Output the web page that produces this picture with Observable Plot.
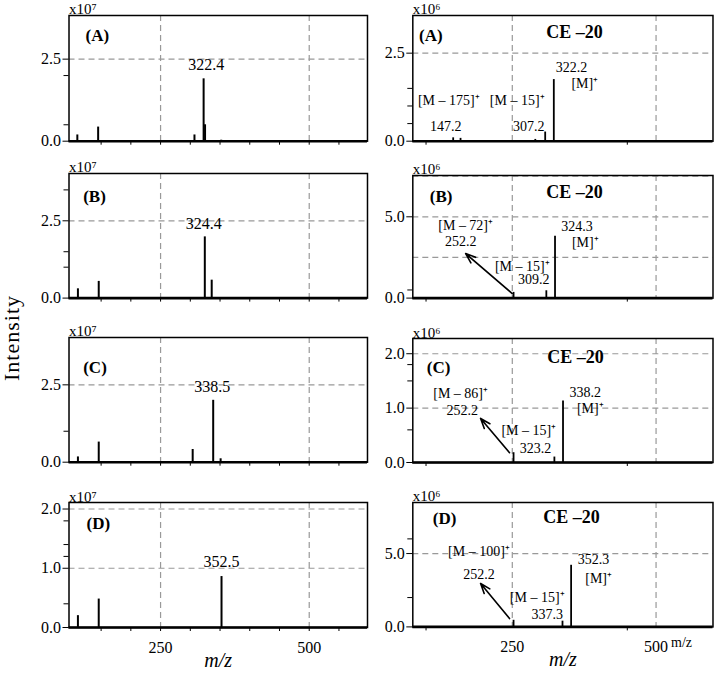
<!DOCTYPE html>
<html>
<head>
<meta charset="utf-8">
<script src="https://cdn.jsdelivr.net/npm/d3@7"></script>
<script src="https://cdn.jsdelivr.net/npm/@observablehq/plot@0.6"></script>
<style>
  body { margin: 0; background: #fff; }
  #wrap { position: relative; width: 714px; height: 673px; font-family: "Liberation Serif", "Times New Roman", serif; color: #000; }
  #wrap svg { position: absolute; overflow: visible; }
  #ylab { position: absolute; left: 12px; top: 338px; transform: translate(-50%, -50%) rotate(-90deg); font-size: 22px; letter-spacing: 1px; white-space: nowrap; }
</style>
</head>
<body>
<div id="wrap"><div id="ylab">Intensity</div></div>
<script>
// ---------- shared axis values ----------
const xGrid = [250, 500];
const leftXTicks = [150, 200, 250, 300, 350, 400, 450, 500, 550];
const rightXTicks = [100, 450];
const xLabelTicks = [250, 500];
const leftXDomain = [96, 598];
const rightXDomain = [77, 599];
const panelLetters = ["(A)", "(B)", "(C)", "(D)"];
const ceLabel = "CE –20";
const leftMult = "x10⁷";
const rightMult = "x10⁶";
const xTitle = "m/z";

// ---------- left column: full scan (x10^7) ----------
const fullA_mz = [110, 145, 307, 322.4, 324.8, 352];
const fullA_int = [0.19, 0.43, 0.19, 1.90, 0.50, 0.03];
const fullA_yMax = 3.83, fullA_yLabels = [0, 2.5], fullA_yGrid = [2.5], fullA_yMinor = [0.5, 2.0];
const fullA_annText = ["322.4"], fullA_annMz = [326.7], fullA_annInt = [2.34];

const fullB_mz = [111, 146, 324.4, 336];
const fullB_int = [0.30, 0.54, 1.98, 0.58];
const fullB_yMax = 4.03, fullB_yLabels = [0, 2.5], fullB_yGrid = [2.5], fullB_yMinor = [1.0, 1.5, 3.5];
const fullB_annText = ["324.4"], fullB_annMz = [322.7], fullB_annInt = [2.39];

const fullC_mz = [111, 146, 304, 338.5, 351];
const fullC_int = [0.17, 0.65, 0.41, 2.00, 0.11];
const fullC_yMax = 4.03, fullC_yLabels = [0, 2.5], fullC_yGrid = [2.5], fullC_yMinor = [1.0];
const fullC_annText = ["338.5"], fullC_annMz = [336.8], fullC_annInt = [2.43];

const fullD_mz = [111, 146, 352.5];
const fullD_int = [0.20, 0.48, 0.86];
const fullD_yMax = 2.11, fullD_yLabels = [0, 1.0, 2.0], fullD_yGrid = [1.0, 2.0], fullD_yMinor = [0.4, 1.2, 1.4, 1.8];
const fullD_annText = ["352.5"], fullD_annMz = [352.5], fullD_annInt = [1.10];

// ---------- right column: product ions, CE -20 (x10^6) ----------
const ms2A_mz = [147.2, 160, 290, 307.2, 322.2];
const ms2A_int = [0.095, 0.08, 0.05, 0.26, 1.75];
const ms2A_yMax = 3.57, ms2A_yLabels = [0, 2.5], ms2A_yGrid = [2.5], ms2A_yMinor = [0.5, 1.0, 1.5];
const ms2A_annText = ["322.2", "[M]⁺", "[M – 175]⁺", "147.2", "[M – 15]⁺", "307.2"];
const ms2A_annMz = [352.8, 376, 139.5, 134.2, 258.5, 278.7];
const ms2A_annInt = [2.08, 1.64, 1.16, 0.42, 1.16, 0.42];
const ms2A_arrow = null;

const ms2B_mz = [252.2, 309.2, 324.3];
const ms2B_int = [0.35, 0.45, 3.81];
const ms2B_yMax = 7.54, ms2B_yLabels = [0, 5.0], ms2B_yGrid = [2.5, 5.0, 7.5], ms2B_yMinor = [0.5];
const ms2B_annText = ["[M – 72]⁺", "252.2", "324.3", "[M]⁺", "[M – 15]⁺", "309.2"];
const ms2B_annMz = [168.9, 160.2, 362.6, 377, 267.3, 287.4];
const ms2B_annInt = [4.44, 3.46, 4.40, 3.42, 1.95, 1.12];
const ms2B_arrow = {x1: 249.9, y1: 0.28, x2: 168.9, y2: 2.74};

const ms2C_mz = [252.2, 323.2, 338.2];
const ms2C_int = [0.18, 0.10, 1.13];
const ms2C_yMax = 2.28, ms2C_yLabels = [0, 1.0, 2.0], ms2C_yGrid = [1.0, 2.0], ms2C_yMinor = [0.6, 1.5, 1.8];
const ms2C_annText = ["[M – 86]⁺", "252.2", "338.2", "[M]⁺", "[M – 15]⁺", "323.2"];
const ms2C_annMz = [160.2, 163.2, 377, 385.7, 278.7, 290.3];
const ms2C_annInt = [1.27, 0.96, 1.28, 0.99, 0.58, 0.26];
const ms2C_arrow = {x1: 245.2, y1: 0.18, x2: 194.9, y2: 0.81};

const ms2D_mz = [252.2, 337.3, 352.3];
const ms2D_int = [0.45, 0.39, 4.20];
const ms2D_yMax = 8.48, ms2D_yLabels = [0, 5.0], ms2D_yGrid = [5.0], ms2D_yMinor = [2.0, 6.0];
const ms2D_annText = ["[M – 100]⁺", "252.2", "352.3", "[M]⁺", "[M – 15]⁺", "337.3"];
const ms2D_annMz = [192, 192, 391.4, 400.1, 293.3, 310.6];
const ms2D_annInt = [5.11, 3.59, 4.59, 3.30, 2.0, 0.87];
const ms2D_arrow = {x1: 245.2, y1: 0.57, x2: 194.9, y2: 2.96};

// ---------- layout (pixels) ----------
const layout = {
  left:  {svgLeft: 0,   frameL: 68.5, frameR: 367,   tops: [15, 172.7, 337, 501.7],   letterDx: [16.5, 14.2, 14.2, 17.5], letterDy: [20, 23.3, 29.7, 21.3]},
  right: {svgLeft: 370, frameL: 412.3, frameR: 712.5, tops: [15, 174.7, 337.7, 502.3], letterDx: [6.3, 17, 14, 20], letterDy: [20, 21.3, 29, 15.7],
          ceDx: [11.5, 11.5, 12.5, 8.5], ceDy: [17, 17, 19, 14.4]},
  bottoms: [140.7, 297.3, 461.7, 626.7]
};

const gridStyle = {stroke: "#999", strokeWidth: 1.2, strokeDasharray: "6,4"};

function makePanel(col, row, d) {
  const isLeft = col === 0;
  const L = isLeft ? layout.left : layout.right;
  const top = L.tops[row], bottom = layout.bottoms[row];
  const isBottom = row === 3;
  const mt = 20, mb = isBottom ? 46 : 24;
  const width = 714 - L.svgLeft - (isLeft ? 345 : 0);
  const marginLeft = L.frameL - L.svgLeft;
  const marginRight = width - (L.frameR - L.svgLeft);
  const peaks = d.mz.map((m, i) => ({m, v: d.int[i]}));
  const anns = d.annText.map((t, i) => ({t, m: d.annMz[i], v: d.annInt[i]}));
  const marks = [
    Plot.ruleX(xGrid, gridStyle),
    Plot.ruleY(d.yGrid, gridStyle),
    Plot.axisY({ticks: d.yMinor, tickSize: 5, tickFormat: () => "", label: null}),
    Plot.axisY({ticks: d.yLabels, tickSize: 6, tickPadding: 2, tickFormat: v => v.toFixed(1), fontSize: 16, label: null}),
    Plot.axisX({ticks: isLeft ? leftXTicks : rightXTicks, tickSize: 4, tickFormat: () => "", label: null}),
    Plot.ruleX(peaks, {x: "m", y1: 0, y2: "v", strokeWidth: isLeft ? 2 : 1.8}),
    Plot.ruleY([0], {strokeWidth: 2.6}),
    Plot.frame({strokeWidth: 1.5}),
    Plot.text([isLeft ? leftMult : rightMult], {frameAnchor: "top-left", textAnchor: "start", lineAnchor: "bottom", dy: -1, fontSize: 15}),
    Plot.text([panelLetters[row]], {frameAnchor: "top-left", textAnchor: "start", lineAnchor: "middle", dx: L.letterDx[row], dy: L.letterDy[row], fontSize: 17, fontWeight: "bold"}),
    Plot.text(anns, {x: "m", y: "v", text: "t", fontSize: isLeft ? 16 : 14, lineAnchor: "middle"})
  ];
  if (d.arrow) marks.push(Plot.arrow([d.arrow], {x1: "x1", y1: "y1", x2: "x2", y2: "y2", strokeWidth: 1.6, headLength: 10, headAngle: 40}));
  if (!isLeft) marks.push(Plot.text([ceLabel], {frameAnchor: "top", lineAnchor: "middle", dx: L.ceDx[row], dy: L.ceDy[row], fontSize: 18, fontWeight: "bold"}));
  if (isBottom) {
    marks.push(Plot.axisX({ticks: xLabelTicks, tickSize: 0, tickPadding: 14, fontSize: 16, label: null}));
    marks.push(Plot.text([xTitle], {frameAnchor: "bottom", lineAnchor: "middle", dy: 33, fontSize: 20, fontStyle: "italic"}));
    if (!isLeft) marks.push(Plot.text([xTitle], {frameAnchor: "bottom-right", lineAnchor: "middle", dx: -21, dy: 16, fontSize: 14}));
  }
  const svg = Plot.plot({
    width,
    height: mt + (bottom - top) + mb,
    marginTop: mt, marginBottom: mb, marginLeft, marginRight,
    x: {domain: isLeft ? leftXDomain : rightXDomain, label: null},
    y: {domain: [0, d.yMax], label: null},
    style: {background: "transparent", overflow: "visible", fontFamily: "'Liberation Serif', 'Times New Roman', serif", fontSize: "16px", color: "black"},
    marks
  });
  svg.style.left = L.svgLeft + "px";
  svg.style.top = (top - mt) + "px";
  svg.style.maxWidth = "none";
  document.getElementById("wrap").appendChild(svg);
}

const pack = (mz, int, yMax, yLabels, yGrid, yMinor, annText, annMz, annInt, arrow) =>
  ({mz, int, yMax, yLabels, yGrid, yMinor, annText, annMz, annInt, arrow});

makePanel(0, 0, pack(fullA_mz, fullA_int, fullA_yMax, fullA_yLabels, fullA_yGrid, fullA_yMinor, fullA_annText, fullA_annMz, fullA_annInt, null));
makePanel(0, 1, pack(fullB_mz, fullB_int, fullB_yMax, fullB_yLabels, fullB_yGrid, fullB_yMinor, fullB_annText, fullB_annMz, fullB_annInt, null));
makePanel(0, 2, pack(fullC_mz, fullC_int, fullC_yMax, fullC_yLabels, fullC_yGrid, fullC_yMinor, fullC_annText, fullC_annMz, fullC_annInt, null));
makePanel(0, 3, pack(fullD_mz, fullD_int, fullD_yMax, fullD_yLabels, fullD_yGrid, fullD_yMinor, fullD_annText, fullD_annMz, fullD_annInt, null));
makePanel(1, 0, pack(ms2A_mz, ms2A_int, ms2A_yMax, ms2A_yLabels, ms2A_yGrid, ms2A_yMinor, ms2A_annText, ms2A_annMz, ms2A_annInt, ms2A_arrow));
makePanel(1, 1, pack(ms2B_mz, ms2B_int, ms2B_yMax, ms2B_yLabels, ms2B_yGrid, ms2B_yMinor, ms2B_annText, ms2B_annMz, ms2B_annInt, ms2B_arrow));
makePanel(1, 2, pack(ms2C_mz, ms2C_int, ms2C_yMax, ms2C_yLabels, ms2C_yGrid, ms2C_yMinor, ms2C_annText, ms2C_annMz, ms2C_annInt, ms2C_arrow));
makePanel(1, 3, pack(ms2D_mz, ms2D_int, ms2D_yMax, ms2D_yLabels, ms2D_yGrid, ms2D_yMinor, ms2D_annText, ms2D_annMz, ms2D_annInt, ms2D_arrow));
</script>
</body>
</html>
